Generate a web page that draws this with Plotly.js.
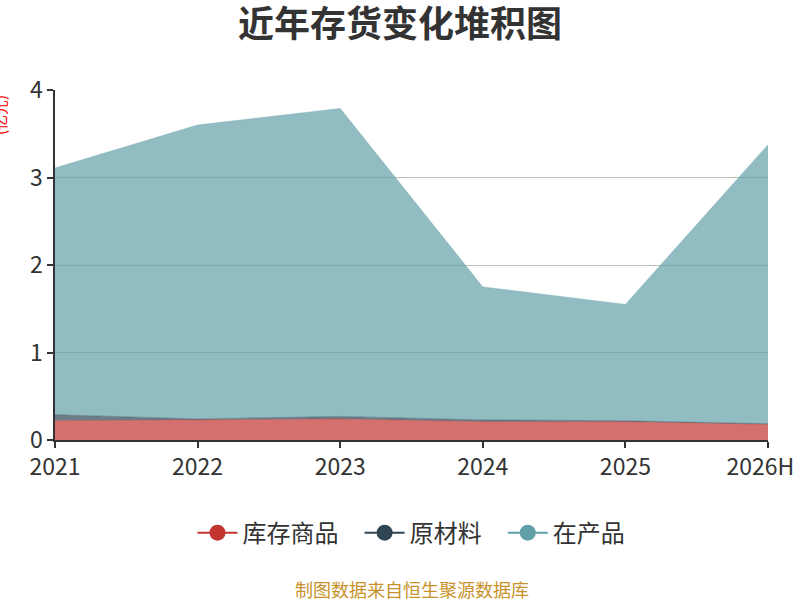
<!DOCTYPE html>
<html>
<head>
<meta charset="utf-8">
<script src="https://cdn.plot.ly/plotly-3.0.1.min.js"></script>
<style>
  body { margin: 0; background: #fff; }
  #chart { width: 800px; height: 600px; }
</style>
</head>
<body>
<div id="chart"></div>
<script>
var years = ['2021', '2022', '2023', '2024', '2025', '2026H'];
var kucun = [0.22, 0.23, 0.24, 0.21, 0.21, 0.18];
var yuancailiao = [0.07, 0.01, 0.03, 0.02, 0.01, 0.005];
var zaichanpin = [2.82, 3.36, 3.52, 1.52, 1.33, 3.19];

var names = ['库存商品', '原材料', '在产品'];
var colors = ['#c23531', '#2f4554', '#61a0a8'];
var fills = ['rgba(194,53,49,0.7)', 'rgba(47,69,84,0.7)', 'rgba(97,160,168,0.7)'];
var series = [kucun, yuancailiao, zaichanpin];

var font = '"Noto Sans CJK SC", "Noto Sans", sans-serif';
var traces = [];

for (var i = 0; i < series.length; i++) {
  traces.push({
    x: years,
    y: series[i],
    name: names[i],
    type: 'scatter',
    mode: 'lines',
    stackgroup: 'one',
    line: { color: fills[i], width: 0.5 },
    fillcolor: fills[i],
    showlegend: false,
    hoverinfo: 'x+y+name'
  });
}

// legend entries styled like line + circle
for (var j = 0; j < names.length; j++) {
  traces.push({
    x: [null],
    y: [null],
    name: names[j] + (j < names.length - 1 ? '\u00a0\u00a0\u00a0' : ''),
    type: 'scatter',
    mode: 'lines+markers',
    line: { color: colors[j], width: 2 },
    marker: { color: colors[j], size: 20 },
    showlegend: true
  });
}

// last label is nudged left so it stays inside the picture
var tickText = years.map(function (y, k) {
  return k === years.length - 1 ? y + '\u00a0\u00a0\u00a0' : y;
});

var layout = {
  width: 800,
  height: 600,
  margin: { l: 55, r: 32, t: 90, b: 160 },
  paper_bgcolor: '#fff',
  plot_bgcolor: '#fff',
  font: { family: font, color: '#333' },
  title: {
    text: '<b>近年存货变化堆积图</b>',
    font: { family: font, size: 36, color: '#333' },
    x: 0.5,
    xanchor: 'center',
    y: 0.96,
    yanchor: 'middle'
  },
  xaxis: {
    type: 'category',
    range: [0, 5],
    tickvals: years,
    ticktext: tickText,
    showgrid: false,
    showline: true,
    linecolor: '#333',
    linewidth: 1.5,
    ticks: 'outside',
    ticklen: 6,
    tickcolor: '#333',
    tickwidth: 1.5,
    tickfont: { size: 23, color: '#333' },
    zeroline: false
  },
  yaxis: {
    range: [0, 4],
    dtick: 1,
    showgrid: true,
    gridcolor: '#c0c0c0',
    gridwidth: 1,
    showline: true,
    linecolor: '#333',
    linewidth: 1.5,
    ticks: 'outside',
    ticklen: 6,
    tickcolor: '#333',
    tickwidth: 1.5,
    tickfont: { size: 23, color: '#333' },
    zeroline: false
  },
  legend: {
    orientation: 'h',
    traceorder: 'normal',
    x: 0.5,
    xanchor: 'center',
    y: -0.266,
    yanchor: 'middle',
    font: { size: 24, color: '#333' },
    itemwidth: 40,
    tracegroupgap: 0
  },
  annotations: [
    {
      text: '制图数据来自恒生聚源数据库',
      xref: 'paper', yref: 'paper',
      x: 0.5, y: -0.426,
      xanchor: 'center', yanchor: 'middle',
      showarrow: false,
      font: { family: font, size: 18, color: '#c8922a' }
    },
    {
      text: '(亿元)',
      xref: 'paper', yref: 'paper',
      x: -0.077, y: 0.929,
      xanchor: 'center', yanchor: 'middle',
      textangle: -90,
      showarrow: false,
      font: { family: font, size: 15, color: '#ff0000' }
    }
  ]
};

Plotly.newPlot('chart', traces, layout, { displayModeBar: false });
</script>
</body>
</html>
